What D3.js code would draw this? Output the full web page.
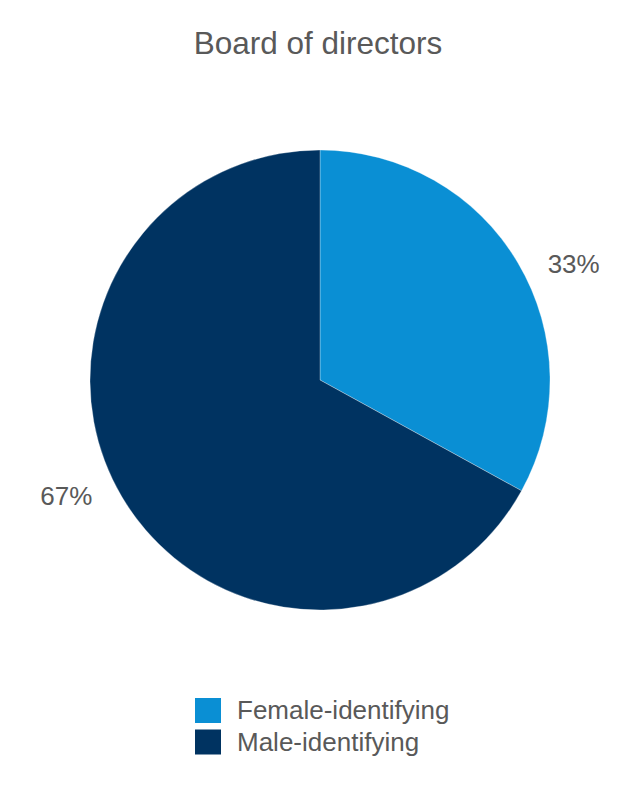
<!DOCTYPE html>
<html><head><meta charset="utf-8">
<script src="https://cdn.jsdelivr.net/npm/d3@7"></script>
<style>body{margin:0;background:#fff}svg{display:block}text{font-family:"Liberation Sans",Arial,sans-serif;fill:#595959}</style>
</head><body>
<script>
const title = "Board of directors";
const categories = ["Female-identifying", "Male-identifying"];
const values = [33, 67];
const labels = ["33%", "67%"];
const colors = ["#0a8fd4", "#003361"];

const W = 640, H = 800, cx = 320, cy = 380, R = 230;
const svg = d3.select("body").append("svg").attr("width", W).attr("height", H);

svg.append("text").attr("x", 318).attr("y", 54).attr("text-anchor", "middle")
  .style("font-size", "31.5px").text(title);

const pie = d3.pie().sort(null).value(d => d)(values);
const arc = d3.arc().innerRadius(0).outerRadius(R);
const g = svg.append("g").attr("transform", `translate(${cx},${cy})`);
g.selectAll("path").data(pie).join("path")
  .attr("d", arc).attr("fill", (d, i) => colors[i])
  .attr("stroke", "#fff").attr("stroke-width", 0.3);

const off = 6 * Math.PI / 180, lr = 279;
g.selectAll("text.lab").data(pie).join("text").attr("class", "lab")
  .attr("x", d => lr * Math.sin((d.startAngle + d.endAngle) / 2 + off))
  .attr("y", d => -lr * Math.cos((d.startAngle + d.endAngle) / 2 + off))
  .attr("text-anchor", "middle").attr("dy", "0.35em")
  .style("font-size", "26px").text((d, i) => labels[i]);

const lg = svg.append("g").attr("transform", "translate(195,698)");
const it = lg.selectAll("g").data(categories).join("g")
  .attr("transform", (d, i) => `translate(0,${i * 31.5})`);
it.append("rect").attr("width", 26).attr("height", 25).attr("fill", (d, i) => colors[i]);
it.append("text").attr("x", 42).attr("y", 21).style("font-size", "26px").text(d => d);
</script>
</body></html>
